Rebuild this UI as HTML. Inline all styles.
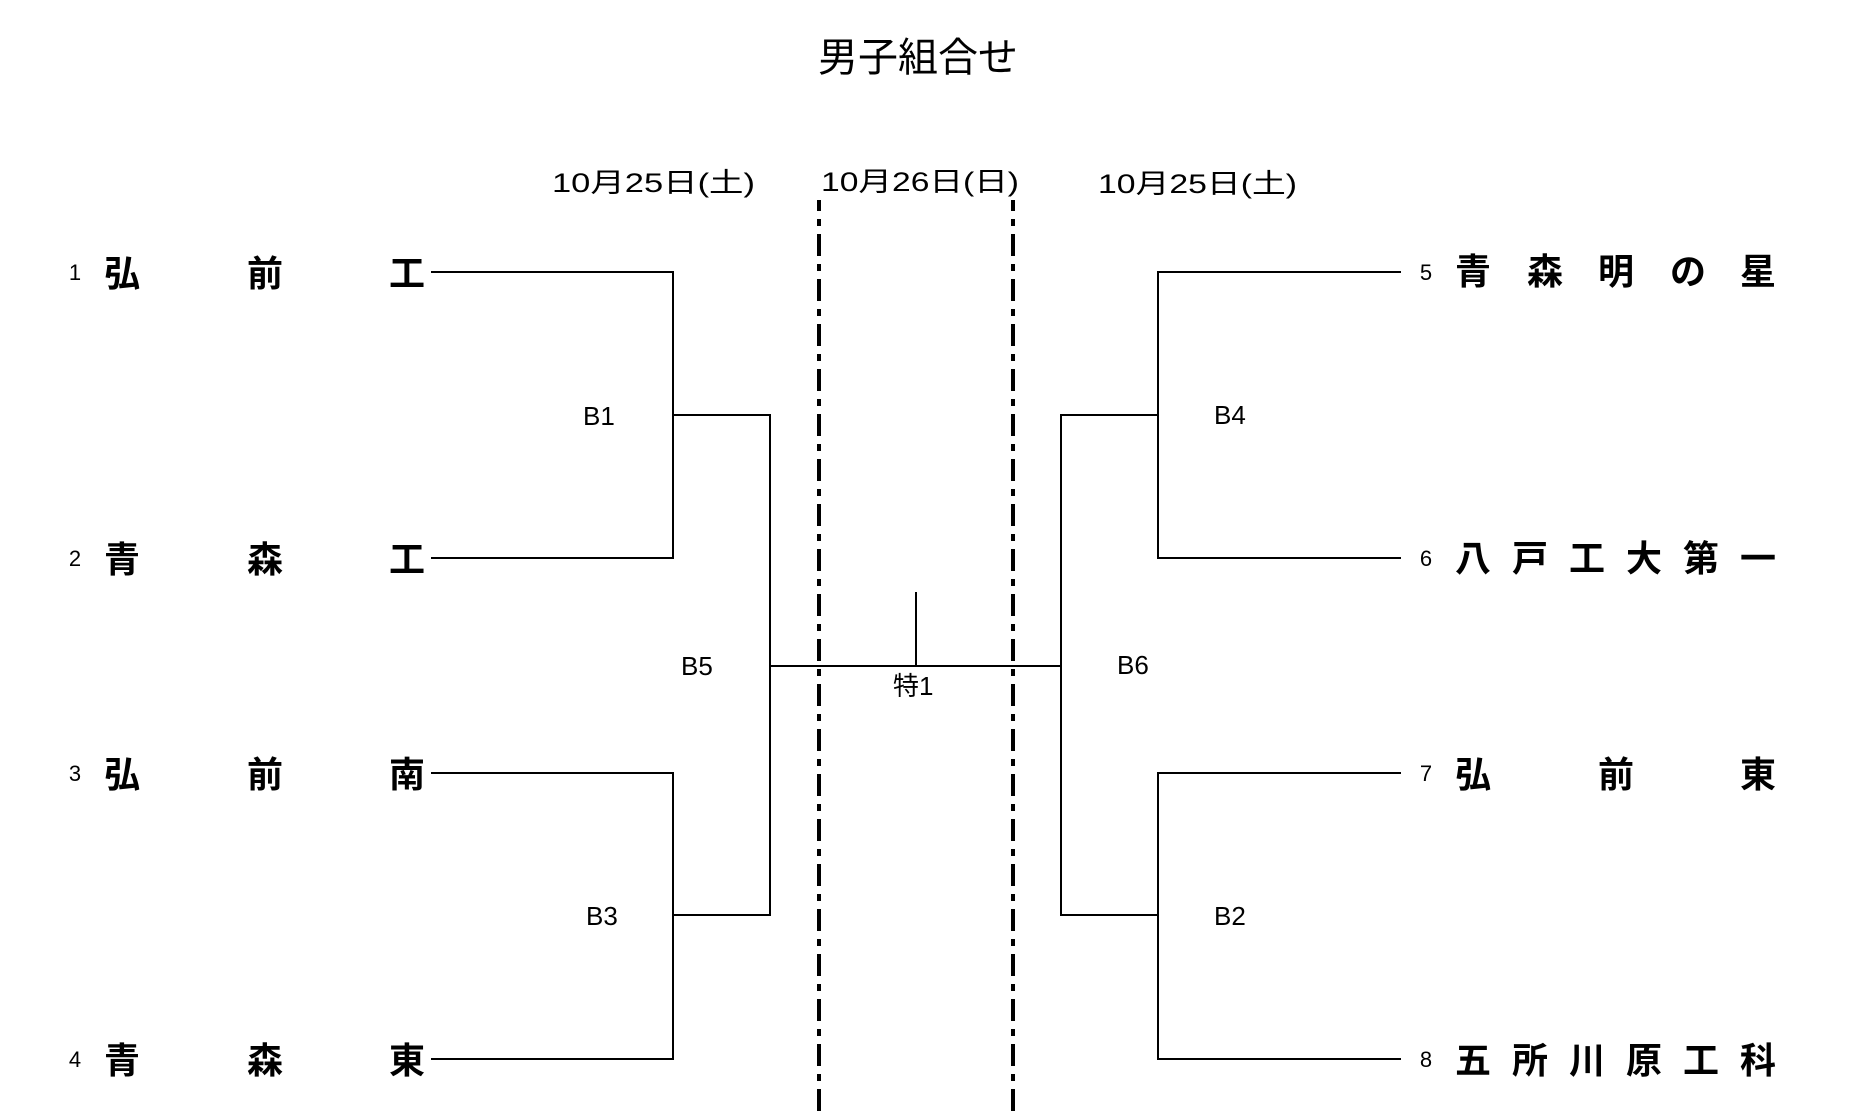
<!DOCTYPE html>
<html>
<head>
<meta charset="utf-8">
<style>
  html, body { margin:0; padding:0; background:#fff; }
  body { width:1857px; height:1111px; overflow:hidden; }
  svg { display:block; }
  .cjk { font-family: "Liberation Sans", "Noto Sans CJK JP", sans-serif; }
  .nm { font-family: "Liberation Sans", "Noto Sans CJK JP", sans-serif; font-weight:bold; font-size:36px; }
  .num { font-family: "Liberation Sans", sans-serif; font-size:22px; }
  .lbl { font-family: "Liberation Sans", sans-serif; font-size:26px; }
</style>
</head>
<body>
<svg width="1857" height="1111" viewBox="0 0 1857 1111" xmlns="http://www.w3.org/2000/svg">
  <rect x="0" y="0" width="1857" height="1111" fill="#fff"/>

  <!-- Title -->
  <text class="cjk" x="818" y="71" font-size="40" textLength="200" lengthAdjust="spacingAndGlyphs">男子組合せ</text>

  <!-- Dates -->
  <text class="cjk" x="552" y="192" font-size="27" textLength="203" lengthAdjust="spacingAndGlyphs">10月25日(土)</text>
  <text class="cjk" x="821" y="191" font-size="27" textLength="198" lengthAdjust="spacingAndGlyphs">10月26日(日)</text>
  <text class="cjk" x="1098" y="193" font-size="27" textLength="199" lengthAdjust="spacingAndGlyphs">10月25日(土)</text>

  <!-- Dash-dot vertical lines -->
  <line x1="819" y1="200" x2="819" y2="1111" stroke="#000" stroke-width="4" stroke-dasharray="22 8 7 8" stroke-dashoffset="11"/>
  <line x1="1013" y1="200" x2="1013" y2="1111" stroke="#000" stroke-width="4" stroke-dasharray="22 8 7 8" stroke-dashoffset="11"/>

  <!-- Bracket lines -->
  <g stroke="#000" stroke-width="2" fill="none" stroke-linecap="square">
    <polyline points="432,272 673,272 673,558 432,558"/>
    <line x1="673" y1="415" x2="770" y2="415"/>
    <polyline points="432,773 673,773 673,1059 432,1059"/>
    <line x1="673" y1="915" x2="770" y2="915"/>
    <line x1="770" y1="415" x2="770" y2="915"/>
    <line x1="770" y1="666" x2="1061" y2="666"/>
    <line x1="916" y1="593" x2="916" y2="666"/>
    <line x1="1061" y1="415" x2="1061" y2="915"/>
    <line x1="1061" y1="415" x2="1158" y2="415"/>
    <line x1="1061" y1="915" x2="1158" y2="915"/>
    <polyline points="1400,272 1158,272 1158,558 1400,558"/>
    <polyline points="1400,773 1158,773 1158,1059 1400,1059"/>
  </g>

  <!-- Left seeds -->
  <text class="num" x="75" y="280" text-anchor="middle">1</text>
  <text class="num" x="75" y="566" text-anchor="middle">2</text>
  <text class="num" x="75" y="781" text-anchor="middle">3</text>
  <text class="num" x="75" y="1067" text-anchor="middle">4</text>

  <!-- Left names -->
  <g class="nm" text-anchor="middle">
    <text x="122" y="286">弘</text><text x="265" y="286">前</text><text x="407" y="286">工</text>
    <text x="122" y="572">青</text><text x="265" y="572">森</text><text x="407" y="572">工</text>
    <text x="122" y="787">弘</text><text x="265" y="787">前</text><text x="407" y="787">南</text>
    <text x="122" y="1073">青</text><text x="265" y="1073">森</text><text x="407" y="1073">東</text>
  </g>

  <!-- Right seeds -->
  <text class="num" x="1426" y="280" text-anchor="middle">5</text>
  <text class="num" x="1426" y="566" text-anchor="middle">6</text>
  <text class="num" x="1426" y="781" text-anchor="middle">7</text>
  <text class="num" x="1426" y="1067" text-anchor="middle">8</text>

  <!-- Right names -->
  <g class="nm" text-anchor="middle">
    <text x="1473" y="284">青</text><text x="1545" y="284">森</text><text x="1616" y="284">明</text><text x="1688" y="284">の</text><text x="1758" y="284">星</text>
    <text x="1473" y="571">八</text><text x="1530" y="571">戸</text><text x="1587" y="571">工</text><text x="1644" y="571">大</text><text x="1701" y="571">第</text><text x="1758" y="571">一</text>
    <text x="1473" y="787">弘</text><text x="1616" y="787">前</text><text x="1758" y="787">東</text>
    <text x="1473" y="1073">五</text><text x="1530" y="1073">所</text><text x="1587" y="1073">川</text><text x="1644" y="1073">原</text><text x="1701" y="1073">工</text><text x="1758" y="1073">科</text>
  </g>

  <!-- Match labels -->
  <text class="lbl" x="583" y="425">B1</text>
  <text class="lbl" x="681" y="675">B5</text>
  <text class="lbl" x="586" y="925">B3</text>
  <text class="lbl" x="1214" y="424">B4</text>
  <text class="lbl" x="1117" y="674">B6</text>
  <text class="lbl" x="1214" y="925">B2</text>
  <text class="cjk" x="893" y="695" font-size="26">特1</text>
</svg>
</body>
</html>
